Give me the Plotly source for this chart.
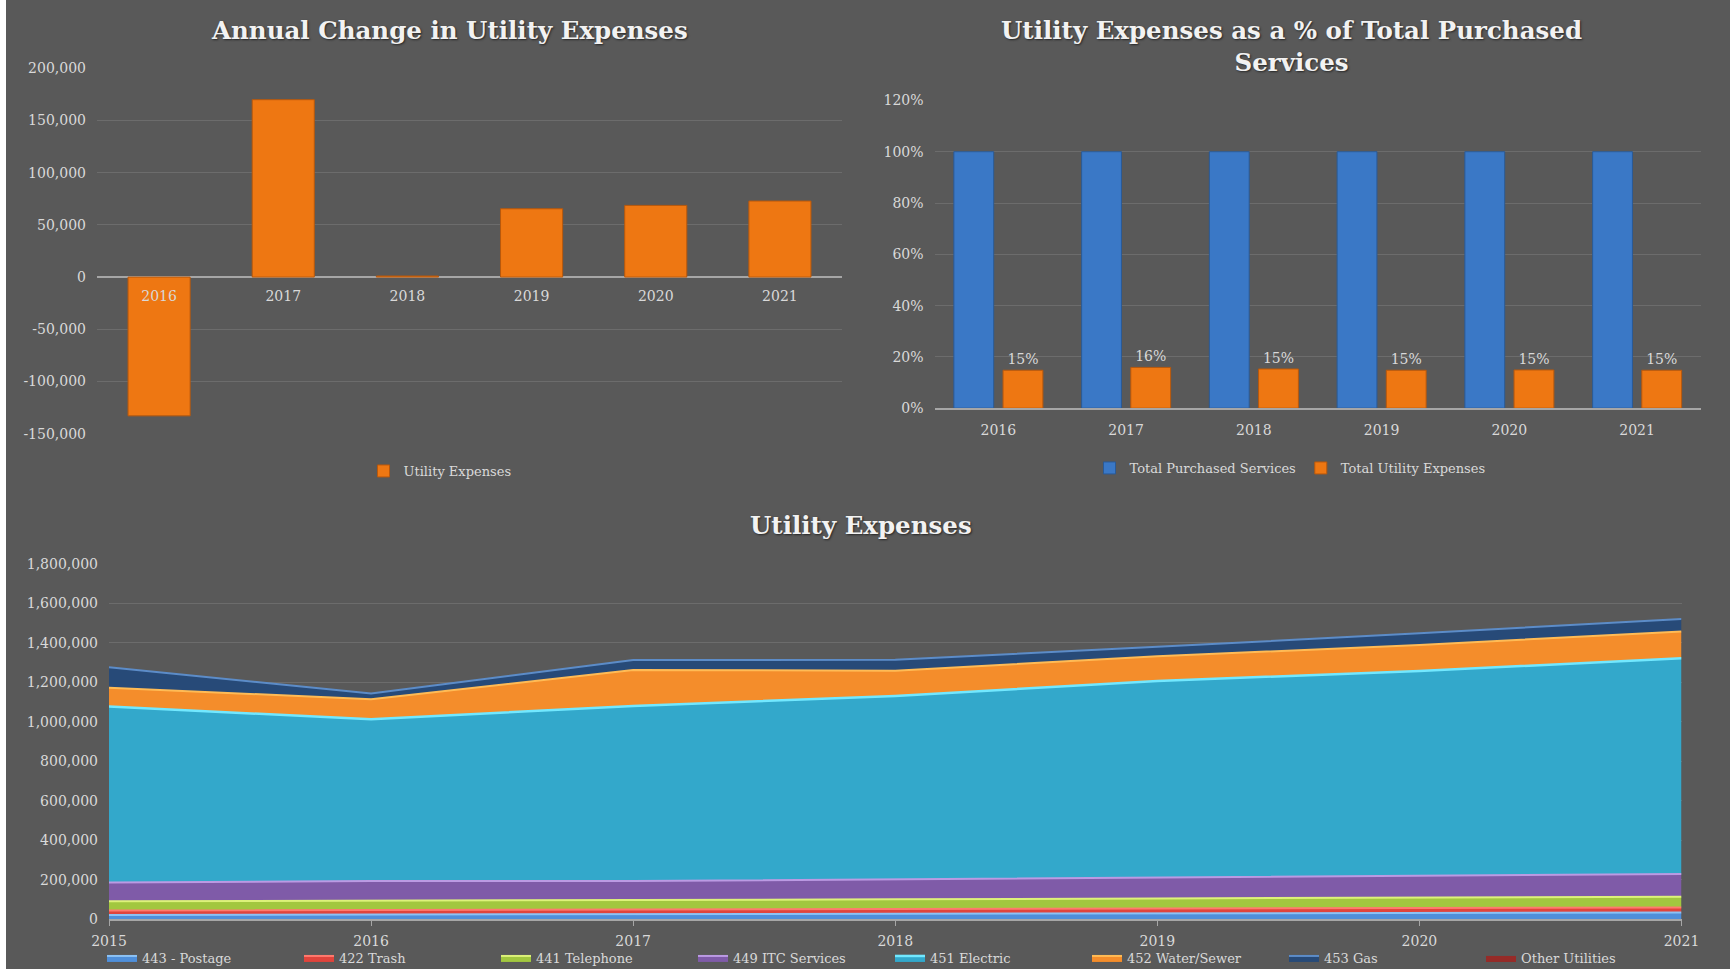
import plotly.graph_objects as go

# ---- data -------------------------------------------------------------
change_years = ["2016", "2017", "2018", "2019", "2020", "2021"]
annual_change = [-133000, 170000, 1000, 65500, 68700, 72900]
change_ticks = [-150000, -100000, -50000, 0, 50000, 100000, 150000, 200000]

share_years = ["2016", "2017", "2018", "2019", "2020", "2021"]
purchased_share = [1.0, 1.0, 1.0, 1.0, 1.0, 1.0]
utility_share = [0.148, 0.159, 0.153, 0.148, 0.149, 0.148]

area_years = [2015, 2016, 2017, 2018, 2019, 2020, 2021]
postage = [22000, 23500, 25000, 27500, 30000, 32000, 34500]
trash = [22500, 23000, 23500, 24000, 24500, 25200, 25800]
telephone = [46500, 47000, 48000, 49500, 51000, 52000, 53500]
itc_services = [95000, 100000, 97000, 101000, 105000, 110000, 115500]
electric = [891000, 819500, 886500, 929000, 996500, 1037800, 1092700]
water_sewer = [96000, 101000, 182000, 128000, 125000, 132000, 135000]
gas = [103000, 29000, 51000, 55000, 47500, 59000, 64000]
other_utilities = [0, 0, 0, 0, 0, 0, 0]

area_names = ["443 - Postage", "422 Trash", "441 Telephone", "449 ITC Services",
              "451 Electric", "452 Water/Sewer", "453 Gas", "Other Utilities"]

# ---- styling ----------------------------------------------------------
W, H = 1730, 969
BG = "#595959"
GRID = "#6C6C6C"
AXIS = "#A6A6A6"
TXT = "#D9D9D9"
FONT = "DejaVu Serif"
ORANGE = "#EE7712"
BLUE = "#3A78C6"

area_fill = ["#4F8FDA", "#E0443C", "#A2C73F", "#7F5BA8",
             "#33A8CB", "#F48D2B", "#274A78", "#962B28"]
area_edge = ["#8CC2F5", "#FF7A6E", "#DDF27A", "#BB9AE3",
             "#72E8FF", "#FFBB55", "#5C8CC8", "#962B28"]
edge_width = [2, 2, 2, 2, 2.5, 2, 2, 0]


def fx(p):
    return p / W


def fy(p):
    return 1 - p / H


fig = go.Figure()

# Annual change bars
fig.add_trace(go.Bar(
    x=change_years, y=annual_change, name="Utility Expenses",
    marker=dict(color=ORANGE, line=dict(color="#B8580C", width=1)),
    width=0.5, xaxis="x", yaxis="y", legend="legend",
))

# Share of purchased services
fig.add_trace(go.Bar(
    x=share_years, y=purchased_share, name="Total Purchased Services",
    marker=dict(color=BLUE, line=dict(color="#2A5A96", width=1)),
    xaxis="x2", yaxis="y2", legend="legend2",
))
fig.add_trace(go.Bar(
    x=share_years, y=utility_share, name="Total Utility Expenses",
    marker=dict(color=ORANGE, line=dict(color="#B8580C", width=1)),
    texttemplate="%{y:.0%}", textposition="outside",
    textfont=dict(family=FONT, size=14, color=TXT), cliponaxis=False,
    xaxis="x2", yaxis="y2", legend="legend2",
))

# Stacked utility expense areas
series = [postage, trash, telephone, itc_services,
          electric, water_sewer, gas, other_utilities]
for name, vals, fc, lc, lw in zip(area_names, series, area_fill,
                                  area_edge, edge_width):
    fig.add_trace(go.Scatter(
        x=area_years, y=vals, name=name, mode="lines",
        stackgroup="util", fillcolor=fc,
        line=dict(color=lc, width=lw),
        xaxis="x3", yaxis="y3", legend="legend3",
    ))

tick_font = dict(family=FONT, size=14, color=TXT)
legend_font = dict(family=FONT, size=13, color=TXT)
title_font = dict(family=FONT, size=24.5, color="#F2F2F2", weight="bold",
                  shadow="1px 1px 2px #262626")

fig.update_layout(
    width=W, height=H,
    margin=dict(l=0, r=0, t=0, b=0, autoexpand=False),
    paper_bgcolor=BG, plot_bgcolor=BG,
    barmode="group", bargap=0.23, bargroupgap=0.19,
    showlegend=True,
    xaxis=dict(
        domain=[fx(97), fx(842)], anchor="free", position=fy(278),
        showgrid=False, showline=False, ticks="", tickfont=tick_font,
        ticklabelstandoff=8, fixedrange=True, automargin=False,
    ),
    yaxis=dict(
        domain=[fy(433.6), fy(68.4)], range=[-150000, 200000],
        tickvals=change_ticks,
        ticktext=[f"{v:,}" for v in change_ticks],
        gridcolor=GRID, gridwidth=1,
        zeroline=True, zerolinecolor=AXIS, zerolinewidth=1.5,
        showline=False, tickfont=tick_font, ticklabelstandoff=10,
        anchor="x", automargin=False,
    ),
    xaxis2=dict(
        domain=[fx(934.5), fx(1701)], anchor="y2",
        showgrid=False, showline=True, linecolor=AXIS, linewidth=1.5,
        ticks="", tickfont=tick_font, ticklabelstandoff=8, automargin=False,
    ),
    yaxis2=dict(
        domain=[fy(408.2), fy(100.4)], range=[0, 1.2], dtick=0.2,
        tickformat=".0%", gridcolor=GRID, gridwidth=1, zeroline=False,
        showline=False, tickfont=tick_font, ticklabelstandoff=10,
        anchor="x2", automargin=False,
    ),
    xaxis3=dict(
        domain=[fx(109), fx(1681.5)], range=[2015, 2021], dtick=1,
        anchor="y3", showgrid=False, showline=True, linecolor=AXIS,
        linewidth=1.5, ticks="outside", ticklen=5, tickcolor=AXIS,
        tickfont=tick_font, ticklabelstandoff=3, automargin=False,
    ),
    yaxis3=dict(
        domain=[fy(919.3), fy(563.8)], range=[0, 1800000], dtick=200000,
        tickformat=",d", gridcolor=GRID, gridwidth=1, zeroline=False,
        showline=False, tickfont=tick_font, ticklabelstandoff=10,
        anchor="x3", automargin=False,
    ),
    legend=dict(
        orientation="h", x=fx(440), xanchor="center", y=fy(471),
        yanchor="middle", font=legend_font, bgcolor="rgba(0,0,0,0)",
    ),
    legend2=dict(
        orientation="h", x=fx(1290), xanchor="center", y=fy(468),
        yanchor="middle", font=legend_font, bgcolor="rgba(0,0,0,0)",
    ),
    legend3=dict(
        orientation="h", x=fx(102), xanchor="left", y=fy(958),
        yanchor="middle", font=legend_font, bgcolor="rgba(0,0,0,0)",
        traceorder="normal", entrywidth=152,
    ),
    annotations=[
        dict(text="Annual Change in Utility Expenses", x=fx(449), y=fy(31),
             xref="paper", yref="paper", showarrow=False, font=title_font,
             xanchor="center", yanchor="middle"),
        dict(text="Utility Expenses as a % of Total Purchased<br>Services",
             x=fx(1291), y=fy(47), xref="paper", yref="paper",
             showarrow=False, font=title_font, xanchor="center",
             yanchor="middle"),
        dict(text="Utility Expenses", x=fx(861), y=fy(525), xref="paper",
             yref="paper", showarrow=False, font=title_font,
             xanchor="center", yanchor="middle"),
    ],
    shapes=[
        dict(type="rect", xref="paper", yref="paper", x0=0, x1=fx(6),
             y0=0, y1=1, fillcolor="#FFFFFF", line=dict(width=0),
             layer="above"),
    ],
)

fig.write_html("out.html")
